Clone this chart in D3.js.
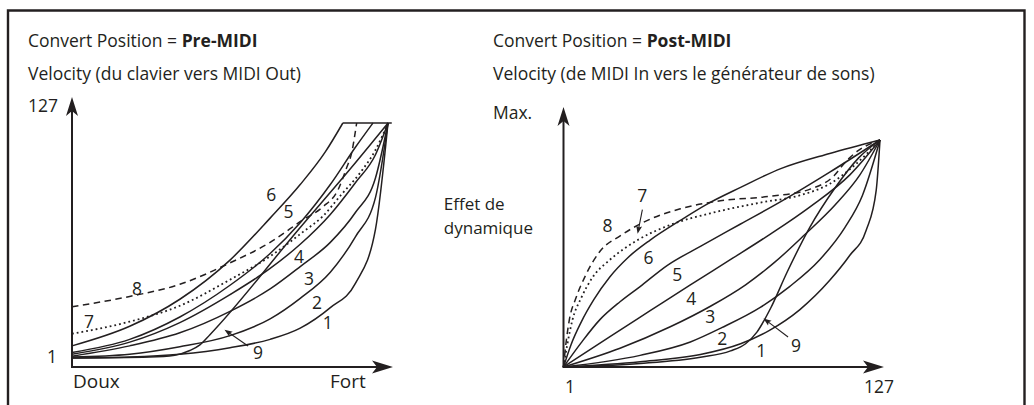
<!DOCTYPE html>
<html>
<head>
<meta charset="utf-8">
<script src="https://cdn.jsdelivr.net/npm/d3@7"></script>
<style>
  body { margin: 0; background: #fff; }
  svg text { font-family: "Open Sans", "Noto Sans", sans-serif; fill: #231f20; }
</style>
</head>
<body>
<svg id="chart" width="1034" height="405"></svg>
<script>
// ---- Pre-MIDI curves: keyboard velocity (1..127) -> MIDI Out velocity (1..127)
const preCurve1 = [[1,1],[24,1.5],[44,3],[64,6.5],[80,11],[92,17],[104,28],[114,41],[122,70],[127,127]];
const preCurve2 = [[1,1.5],[24,3],[44,7],[64,13],[80,22],[92,33],[104,47],[114,66],[122,87],[127,127]];
const preCurve3 = [[1,2],[24,7.5],[44,14.5],[64,26],[80,38],[92,50],[104,63],[114,79],[122,97.5],[127,127]];
const preCurve4 = [[1,3],[24,9.5],[44,20],[64,35],[80,49],[92,62],[104,78],[114,95],[122,110],[127,127]];
const preCurve5 = [[1,4],[24,11],[44,23],[64,40],[80,57],[92,73.5],[104,94],[114,114],[121,127]];
const preCurve6 = [[1,7.5],[24,18],[44,32.5],[64,53.5],[80,76],[92,94],[102,111.5],[109,127]];
const preCurve7 = [[1,14],[24,20.5],[44,29],[64,43],[80,55.5],[93,68.5],[101,77],[108,88],[116,100.5],[122,112.5],[127,127]];
const preCurve8 = [[1,28.5],[24,34],[44,40.5],[64,52],[80,63],[93,75],[101,82],[107,91],[110.5,103],[112.5,111],[114.5,127]];
const preCurve9 = [[1,1],[32,1.5],[42,2.5],[48,5],[52,8],[56,13.5],[92,71],[112,102.5],[127,127]];
const preCeiling = [[109,127],[128.5,127]];

// ---- Post-MIDI curves: MIDI In velocity (1..127) -> dynamics effect (0..Max = 127)
const postCurve1 = [[1,0],[31.5,3],[55.5,7],[71.5,13],[83,20.5],[95,32],[107,48.5],[115,62.5],[121.5,76.5],[125.5,99],[127,127]];
const postCurve2 = [[1,0],[31.5,6.5],[51.5,14],[64,22],[79.5,33.5],[91,45],[103,60],[113,78],[120,96],[127,127]];
const postCurve3 = [[1,0],[23.5,10.5],[43.5,22.5],[59.5,34],[73.5,46],[85,58.5],[97,74],[109,90.5],[119,107.5],[127,127]];
const postCurve4 = [[1,0],[19.5,17],[35.5,31.5],[51.5,46],[68.5,61],[83.5,74.5],[99,89.5],[115,107.5],[127,127]];
const postCurve5 = [[1,0],[8,13.5],[15.5,26.5],[23.5,36.5],[31.5,45],[42.5,57],[55.5,67.5],[71.5,80],[87.5,92.5],[107,109],[127,127]];
const postCurve6 = [[1,0],[4,12.5],[8,25],[13,37.5],[19.5,50.5],[26.5,61],[35.5,71],[47.5,82],[58,91],[71.5,100.5],[87.5,111],[107,119.5],[127,127]];
const postCurve7 = [[1,0],[2.5,12.5],[4.5,26],[8,38.5],[12.5,50],[19.5,60],[30.5,71],[43.5,79.5],[59.5,86],[79.5,92],[95,96],[107,102.5],[117,113],[127,127]];
const postCurve8 = [[1,0],[1.8,11],[3.4,27],[5.8,38],[9.7,51],[15.7,65],[23.7,73.5],[33.6,81.5],[47.5,88.5],[63.4,93],[83.3,95.5],[99.2,99.5],[108.7,107],[113.1,114.5],[118.3,121],[127,127]];
const postCurve9 = [[1,0],[31.5,2],[55.5,5.5],[67.5,9],[73.5,13],[78,19.5],[83.5,33],[90,53],[99,78],[109,100],[118.5,117],[127,127]];

const curveNames = ["1","2","3","4","5","6","7","8","9"];
const curveStyles = ["solid","solid","solid","solid","solid","solid","dotted","dashed","solid"];

// label anchors, in each panel's data units
const preLabelAnchors = [[103,19.8],[98.7,31],[95.5,43.4],[91.5,55.2],[87.3,79.3],[80.5,88.4],[7.8,20.8],[26.9,38],[75.2,3.7]];
const postLabelAnchors = [[79.7,9.5],[64.2,16.2],[59.4,28],[51.9,38.6],[46.3,52],[34.8,61.5],[32.4,96.2],[18.5,79.4],[93.6,12.3]];

// leader arrows: [from, to] in data units
const preArrows = [[[71.2,7.4],[61.8,16.2]]];
const postArrows = [[[90.4,16.8],[80.6,27.2]], [[32.4,88],[30.5,74.5]]];

const INK = "#231f20";
const FS = 17.5;
const svg = d3.select("#chart");

// outer frame
svg.append("path")
  .attr("d", "M8,410V10.5H1024.5V410")
  .attr("fill", "none").attr("stroke", INK).attr("stroke-width", 2.4);

function title(x, lead, bold, sub) {
  const t = svg.append("text").attr("x", x).attr("y", 47).attr("font-size", FS);
  t.append("tspan").text(lead);
  t.append("tspan").attr("font-weight", "bold").text(bold);
  svg.append("text").attr("x", x).attr("y", 80).attr("font-size", FS).text(sub);
}

function label(x, y, s, anchor, size) {
  return svg.append("text").attr("x", x).attr("y", y).attr("font-size", size || FS)
    .attr("text-anchor", anchor || "start").text(s);
}

// filled arrowhead with a notched back
function arrowHead(tip, dir, len, half, notch) {
  const [tx, ty] = tip, [dx, dy] = dir;
  const nx = -dy, ny = dx;
  const bx = tx - dx * len, by = ty - dy * len;
  const mx = tx - dx * (len - notch), my = ty - dy * (len - notch);
  svg.append("path")
    .attr("d", `M${tx},${ty}L${bx + nx * half},${by + ny * half}L${mx},${my}L${bx - nx * half},${by - ny * half}Z`)
    .attr("fill", INK);
}

function axes(ox, oy, topY, rightX) {
  svg.append("line").attr("x1", ox).attr("y1", oy).attr("x2", ox).attr("y2", topY + 10)
    .attr("stroke", INK).attr("stroke-width", 2);
  svg.append("line").attr("x1", ox - 1).attr("y1", oy).attr("x2", rightX - 10).attr("y2", oy)
    .attr("stroke", INK).attr("stroke-width", 2);
  arrowHead([ox, topY], [0, -1], 19, 6, 5);
  arrowHead([rightX, oy], [1, 0], 21, 6.5, 5);
}

function dashFor(style) {
  return style === "dashed" ? "6.5,4.5" : style === "dotted" ? "1.8,3" : null;
}

function drawCurves(curves, x, y, ceiling) {
  const line = d3.line().x(d => x(d[0])).y(d => y(d[1])).curve(d3.curveMonotoneX);
  const g = svg.append("g");
  curves.forEach((c, i) => {
    g.append("path").datum(c).attr("d", line)
      .attr("fill", "none").attr("stroke", INK)
      .attr("stroke-width", curveStyles[i] === "dotted" ? 1.8 : 1.5)
      .attr("stroke-dasharray", dashFor(curveStyles[i]))
      .attr("stroke-linejoin", "round");
  });
  if (ceiling) {
    g.append("path").datum(ceiling).attr("d", d3.line().x(d => x(d[0])).y(d => y(d[1])))
      .attr("fill", "none").attr("stroke", INK).attr("stroke-width", 1.5);
  }
}

function drawLabels(anchors, x, y) {
  anchors.forEach((a, i) => {
    label(x(a[0]), y(a[1]) + 6.5, curveNames[i], "middle");
  });
}

function drawLeaders(arrows, x, y) {
  arrows.forEach(([from, to]) => {
    const x1 = x(from[0]), y1 = y(from[1]), x2 = x(to[0]), y2 = y(to[1]);
    const L = Math.hypot(x2 - x1, y2 - y1);
    const d = [(x2 - x1) / L, (y2 - y1) / L];
    svg.append("line").attr("x1", x1).attr("y1", y1)
      .attr("x2", x2 - d[0] * 5).attr("y2", y2 - d[1] * 5)
      .attr("stroke", INK).attr("stroke-width", 1.1);
    arrowHead([x2, y2], d, 8, 3, 1.5);
  });
}

// ---------- Pre-MIDI panel ----------
const xPre = d3.scaleLinear().domain([1, 127]).range([72, 388]);
const yPre = d3.scaleLinear().domain([1, 127]).range([358, 123]);

title(28, "Convert Position = ", "Pre-MIDI", "Velocity (du clavier vers MIDI Out)");
label(28, 112, "127");
label(47, 363, "1");
label(73, 388, "Doux", "start", 19);
label(330, 388, "Fort", "start", 19);
axes(72, 367, 97, 393);
drawCurves([preCurve1, preCurve2, preCurve3, preCurve4, preCurve5, preCurve6, preCurve7, preCurve8, preCurve9],
  xPre, yPre, preCeiling);
drawLabels(preLabelAnchors, xPre, yPre);
drawLeaders(preArrows, xPre, yPre);

// ---------- Post-MIDI panel ----------
const xPost = d3.scaleLinear().domain([1, 127]).range([563.5, 880]);
const yPost = d3.scaleLinear().domain([0, 127]).range([367, 140]);

title(493, "Convert Position = ", "Post-MIDI", "Velocity (de MIDI In vers le générateur de sons)");
label(493, 119, "Max.");
// two-line axis caption, left-aligned, ending a little before the axis
const CAP = 17;
const capLine2 = label(533, 234, "dynamique", "end", CAP);
const capX = capLine2.node().getBBox().x;
capLine2.attr("x", capX).attr("text-anchor", "start");
label(capX, 210, "Effet de", "start", CAP);
label(570, 393, "1", "middle");
label(879, 393, "127", "middle");
axes(563.5, 367, 107, 884);
drawCurves([postCurve1, postCurve2, postCurve3, postCurve4, postCurve5, postCurve6, postCurve7, postCurve8, postCurve9],
  xPost, yPost, null);
drawLabels(postLabelAnchors, xPost, yPost);
drawLeaders(postArrows, xPost, yPost);
</script>
</body>
</html>
